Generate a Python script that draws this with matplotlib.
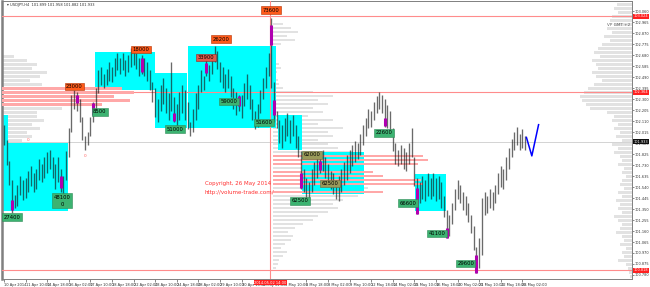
import numpy as np
import matplotlib
matplotlib.use("Agg")
import matplotlib.pyplot as plt
import matplotlib.transforms as mtransforms

# ---- data (USDJPY H4, 10 Apr - 26 May 2014) ----
bar_high = [
    102.08, 101.95, 101.77, 101.60, 101.47, 101.56, 101.64, 101.60,
    101.62, 101.68, 101.72, 101.66, 101.70, 101.78, 101.74, 101.80,
    101.84, 101.86, 101.80, 101.74, 101.80, 101.70, 101.64, 101.85,
    102.05, 102.34, 102.38, 102.36, 102.30, 102.15, 101.98, 102.02,
    102.15, 102.28, 102.40, 102.55, 102.58, 102.52, 102.56, 102.62,
    102.58, 102.66, 102.70, 102.66, 102.70, 102.64, 102.68, 102.74,
    102.72, 102.70, 102.66, 102.68, 102.66, 102.62, 102.55, 102.45,
    102.40, 102.30, 102.42, 102.48, 102.40, 102.35, 102.62, 102.32,
    102.26, 102.36, 102.42, 102.38, 102.28, 102.10, 102.22, 102.35,
    102.42, 102.55, 102.50, 102.64, 102.60, 102.68, 102.76, 102.72,
    102.62, 102.58, 102.52, 102.56, 102.50, 102.40, 102.36, 102.34,
    102.34, 102.44, 102.52, 102.42, 102.30, 102.20, 102.26, 102.38,
    102.48, 102.58, 102.70, 103.00, 102.45, 102.20, 102.12, 102.08,
    102.14, 102.18, 102.12, 102.16, 102.08, 101.98, 101.85, 101.70,
    101.62, 101.58, 101.70, 101.76, 101.82, 101.80, 101.86, 101.80,
    101.74, 101.68, 101.66, 101.60, 101.64, 101.70, 101.76, 101.82,
    101.86, 101.90, 101.94, 101.92, 102.00, 102.08, 102.14, 102.22,
    102.20, 102.28, 102.33, 102.36, 102.34, 102.30, 102.25, 102.20,
    102.05, 101.92, 101.86, 101.90, 101.88, 101.84, 101.92, 102.05,
    101.80, 101.62, 101.58, 101.64, 101.60, 101.66, 101.62, 101.66,
    101.62, 101.64, 101.58, 101.46, 101.34, 101.30, 101.40, 101.52,
    101.60, 101.56, 101.50, 101.46, 101.40, 101.30, 101.20, 101.02,
    101.10, 101.45, 101.50, 101.46, 101.52, 101.50, 101.56, 101.66,
    101.72, 101.70, 101.80, 101.88, 101.96, 102.02, 102.06, 102.00,
    102.04, 101.98,
]
bar_low = [
    101.90, 101.73, 101.56, 101.32, 101.36, 101.38, 101.47, 101.43,
    101.45, 101.50, 101.55, 101.50, 101.52, 101.60, 101.58, 101.62,
    101.66, 101.70, 101.62, 101.52, 101.58, 101.50, 101.47, 101.60,
    101.80, 102.02, 102.22, 102.20, 102.10, 101.95, 101.86, 101.90,
    101.98, 102.10, 102.22, 102.35, 102.42, 102.40, 102.42, 102.46,
    102.45, 102.50, 102.55, 102.52, 102.55, 102.50, 102.54, 102.58,
    102.60, 102.56, 102.50, 102.52, 102.50, 102.46, 102.38, 102.28,
    102.15, 102.10, 102.20, 102.26, 102.18, 102.12, 102.20, 102.10,
    102.06, 102.12, 102.18, 102.12, 102.04, 101.98, 102.02, 102.12,
    102.22, 102.36, 102.38, 102.50, 102.46, 102.52, 102.62, 102.56,
    102.45, 102.40, 102.36, 102.40, 102.32, 102.22, 102.16, 102.20,
    102.14, 102.24, 102.30, 102.22, 102.12, 102.04, 102.06, 102.18,
    102.30, 102.40, 102.50, 102.40, 102.10, 102.05, 101.92, 101.88,
    101.94, 101.98, 101.92, 101.98, 101.88, 101.80, 101.52, 101.50,
    101.44, 101.42, 101.50, 101.56, 101.62, 101.66, 101.68, 101.62,
    101.56, 101.52, 101.48, 101.44, 101.42, 101.50, 101.56, 101.60,
    101.66, 101.72, 101.76, 101.78, 101.82, 101.90, 101.98, 102.05,
    102.06, 102.12, 102.18, 102.22, 102.18, 102.06, 102.05, 102.02,
    101.85, 101.74, 101.72, 101.74, 101.70, 101.68, 101.74, 101.80,
    101.55, 101.31, 101.40, 101.44, 101.42, 101.46, 101.44, 101.46,
    101.42, 101.44, 101.36, 101.28, 101.10, 101.12, 101.22, 101.34,
    101.44, 101.40, 101.34, 101.30, 101.24, 101.14, 101.00, 100.80,
    100.84, 100.95, 101.30, 101.32, 101.36, 101.34, 101.40, 101.48,
    101.54, 101.52, 101.60, 101.70, 101.80, 101.86, 101.90, 101.86,
    101.88, 101.86,
]

# hand-drawn projection (blue)
proj_bar = [193.5, 195.5, 198.0]
proj_price = [101.97, 101.81, 102.08]

# cyan zones: bar from, bar to, top price, bottom price
zone_x0 = [-1.5, 1.5, 33.7, 55.9, 68.1, 101.5, 110.4, 152.2]
zone_x1 = [1.5, 23.7, 55.9, 67.8, 100.7, 110.4, 133.3, 163.7]
zone_top = [102.16, 101.92, 102.71, 102.53, 102.76, 102.16, 101.84, 101.65]
zone_bot = [101.33, 101.33, 102.38, 102.05, 102.05, 101.86, 101.48, 101.33]

# magenta volume bars
mag_bar = [3, 21, 27, 33, 51, 63, 75, 87, 99, 100, 110, 117, 141, 153, 164, 175]
mag_top = [101.43, 101.64, 102.34, 102.27, 102.66, 102.18, 102.61, 102.33,
           102.94, 102.29, 101.66, 101.77, 102.14, 101.53, 101.19, 100.95]
mag_bot = [101.34, 101.53, 102.27, 102.16, 102.54, 102.11, 102.53, 102.24,
           102.77, 102.16, 101.53, 101.69, 102.07, 101.31, 101.10, 100.80]

# volume labels
lab_text = ["27400", "48100\n0", "23000", "8500", "18000", "51000", "33900",
            "26200", "59000", "73600", "51600", "62000", "62500", "62500",
            "22600", "66600", "41100", "29600"]
lab_bar = [3, 21.5, 26, 35.5, 50.7, 63.3, 74.8, 80.4, 83.3, 98.9, 96.3,
           114, 120.7, 109.6, 140.7, 149.6, 160.4, 171]
lab_price = [101.28, 101.42, 102.41, 102.19, 102.73, 102.04, 102.66, 102.82,
             102.28, 103.07, 102.10, 101.82, 101.57, 101.42, 102.01, 101.40,
             101.14, 100.88]
lab_kind = ["g", "g", "o", "g", "o", "g", "r", "o", "g", "o", "g",
            "k", "k", "g", "g", "g", "g", "g"]

# volume profiles (volume in chart pixels)
left_prof_top = 102.67
left_prof_vol = [12, 25, 35, 30, 45, 38, 28, 40, 120, 132, 112, 128, 100, 60,
                 35, 35, 42, 30, 38, 25, 30, 20, 22, 15, 12, 10, 14, 8, 10, 6,
                 12, 8, 5, 6, 4, 3, 3]
mid_prof_top = 102.95
mid_prof_vol = [10, 18, 25, 14, 22, 8, 3, 2, 2, 3, 6, 8, 4, 3, 5, 6, 10, 40,
                60, 45, 55, 40, 50, 35, 60, 45, 70, 55, 60, 45, 55, 65, 80,
                150, 155, 145, 90, 100, 110, 148, 150, 95, 110, 85, 70, 60,
                65, 55, 45, 40, 30, 22, 15, 20, 18, 12, 8, 14, 10, 6, 5, 3]
right_prof_top = 103.12
right_prof_vol = [15, 18, 14, 20, 22, 18, 25, 20, 28, 22, 30, 34, 38, 32, 40,
                  36, 34, 40, 36, 30, 38, 44, 48, 52, 50, 46, 42, 25, 18, 20,
                  14, 18, 12, 16, 10, 20, 14, 18, 12, 10, 14, 8, 10, 6, 10,
                  12, 8, 14, 10, 16, 12, 14, 10, 18, 14, 10, 12, 16, 10, 8,
                  12, 6, 10, 8, 14, 6, 4, 3, 2]

red_levels = [103.02, 102.36, 100.82]
red_tags = ["103.024", "102.364", "100.818"]
last_price = 101.933
split_bar = 98.7

xtick_labels = ["10 Apr 2014", "11 Apr 10:00", "14 Apr 18:00", "16 Apr 02:00",
                "17 Apr 10:00", "18 Apr 18:00", "22 Apr 02:00", "23 Apr 10:00",
                "24 Apr 18:00", "28 Apr 02:00", "29 Apr 10:00", "30 Apr 18:00",
                "2 May 02:00", "5 May 10:00", "6 May 18:00", "8 May 02:00",
                "9 May 10:00", "12 May 18:00", "14 May 02:00", "15 May 10:00",
                "16 May 18:00", "20 May 02:00", "21 May 10:00", "22 May 18:00",
                "26 May 02:00"]

# ---- drawing ----
px = 2.7            # chart pixels per bar
pstep = 0.0346      # profile row step (4 px)

fig = plt.figure(figsize=(6.5, 2.87), dpi=100)
ax = fig.add_axes([2 / 650, 8 / 287, 630 / 650, 278 / 287])
ax.set_xlim(-0.74, 232.6)
ax.set_ylim(100.745, 103.15)

label_colors = {"g": ("#3cb371", "#2e8b57"), "o": ("#ff5a1a", "#b03000"),
                "r": ("#e25a4a", "#a02020"), "k": ("#9a9a5a", "#6b6b3a")}

# zones
for x0, x1, t, b in zip(zone_x0, zone_x1, zone_top, zone_bot):
    ax.add_patch(plt.Rectangle((x0, b), x1 - x0, t - b, fc="#00ffff",
                               ec="none", zorder=2))


def draw_profile(x_anchor, top, vols, direction):
    levels = top - pstep * np.arange(len(vols))
    w = np.array(vols) / px * direction
    for lv, ww, v in zip(levels, w, vols):
        poc = v >= 100
        ax.barh(lv, ww, height=0.02, left=x_anchor,
                color="#ffa8a8" if poc else "#e2e2e2", lw=0,
                zorder=3.5 if poc else 1)


draw_profile(-0.7, left_prof_top, left_prof_vol, 1)
draw_profile(split_bar + 0.8, mid_prof_top, mid_prof_vol, 1)
draw_profile(232.6, right_prof_top, right_prof_vol, -1)

# level lines
for lv in red_levels:
    ax.axhline(lv, color="#ff8c8c", lw=0.8, zorder=3)
ax.axhline(last_price, color="#cccccc", lw=0.6, zorder=1.5)
ax.axvline(split_bar, color="#ff8c8c", lw=0.8, zorder=3)

# price bars
bars = np.arange(len(bar_high))
ax.vlines(bars, bar_low, bar_high, color="#1a1a1a", alpha=0.65, lw=0.95,
          zorder=4)
ax.vlines(mag_bar, mag_bot, mag_top, color="#b000b0", lw=2.2, zorder=5)
ax.plot(proj_bar, proj_price, color="#0000ff", lw=1.1, zorder=5)

for t, xb, yp, k in zip(lab_text, lab_bar, lab_price, lab_kind):
    fc, ec = label_colors[k]
    ax.text(xb, yp, t, fontsize=3.8, ha="center", va="center", zorder=6,
            linespacing=1.6,
            bbox=dict(boxstyle="square,pad=0.25", fc=fc, ec=ec, lw=0.4))

ax.text(9, 101.94, "0", color="#ff6060", fontsize=3, ha="center", zorder=6)
ax.text(30, 101.80, "0", color="#ff6060", fontsize=3, ha="center", zorder=6)

ax.text(74.4, 101.57, "Copyright, 26 May 2014", color="#ff3030", fontsize=4.0,
        ha="left", va="center", zorder=6)
ax.text(74.4, 101.49, "http://volume-trade.com/", color="#ff3030",
        fontsize=4.0, ha="left", va="center", zorder=6)

ax.text(0.008, 0.993, "\u25BE USDJPY,H4  101.899 101.958 101.882 101.933",
        transform=ax.transAxes, fontsize=2.6, color="#303030", va="top")
ax.text(0.997, 0.915, "VP GMT +2", transform=ax.transAxes, fontsize=3.0,
        color="#606060", ha="right", va="center")

# right price axis
ax.yaxis.tick_right()
yt = np.round(100.780 + 0.095 * np.arange(25), 3)
ax.set_yticks(yt)
ax.set_yticklabels([f"{v:.3f}" for v in yt])
ax.tick_params(axis="y", labelsize=2.5, length=1.2, width=0.4, pad=0.6,
               colors="#303030")
ytr = mtransforms.blended_transform_factory(ax.transAxes, ax.transData)
for lv, s in zip(red_levels, red_tags):
    ax.text(1.0025, lv, s, transform=ytr, fontsize=2.5, color="white",
            ha="left", va="center", zorder=7, clip_on=False,
            bbox=dict(boxstyle="square,pad=0.15", fc="#ff2020", ec="none"))
ax.text(1.0025, last_price, f"{last_price:.3f}", transform=ytr, fontsize=2.5,
        color="white", ha="left", va="center", zorder=7, clip_on=False,
        bbox=dict(boxstyle="square,pad=0.15", fc="#101010", ec="none"))

# time axis
ax.set_xticks(np.arange(len(xtick_labels)) * 8)
ax.set_xticklabels(xtick_labels, ha="left")
ax.tick_params(axis="x", labelsize=2.6, length=2, width=0.4, pad=0.8,
               colors="#303030")
xtr = mtransforms.blended_transform_factory(ax.transData, ax.transAxes)
ax.text(split_bar, -0.006, "2014.05.02 14:00", transform=xtr, fontsize=2.6,
        color="white", ha="center", va="top", zorder=7, clip_on=False,
        bbox=dict(boxstyle="square,pad=0.2", fc="#ff2020", ec="none"))

for side in ["left", "right", "top", "bottom"]:
    ax.spines[side].set_color("#808080")
    ax.spines[side].set_linewidth(0.7)
ax.spines["left"].set_linewidth(1.8)

fig.savefig("out.png", dpi=100, facecolor="white")
